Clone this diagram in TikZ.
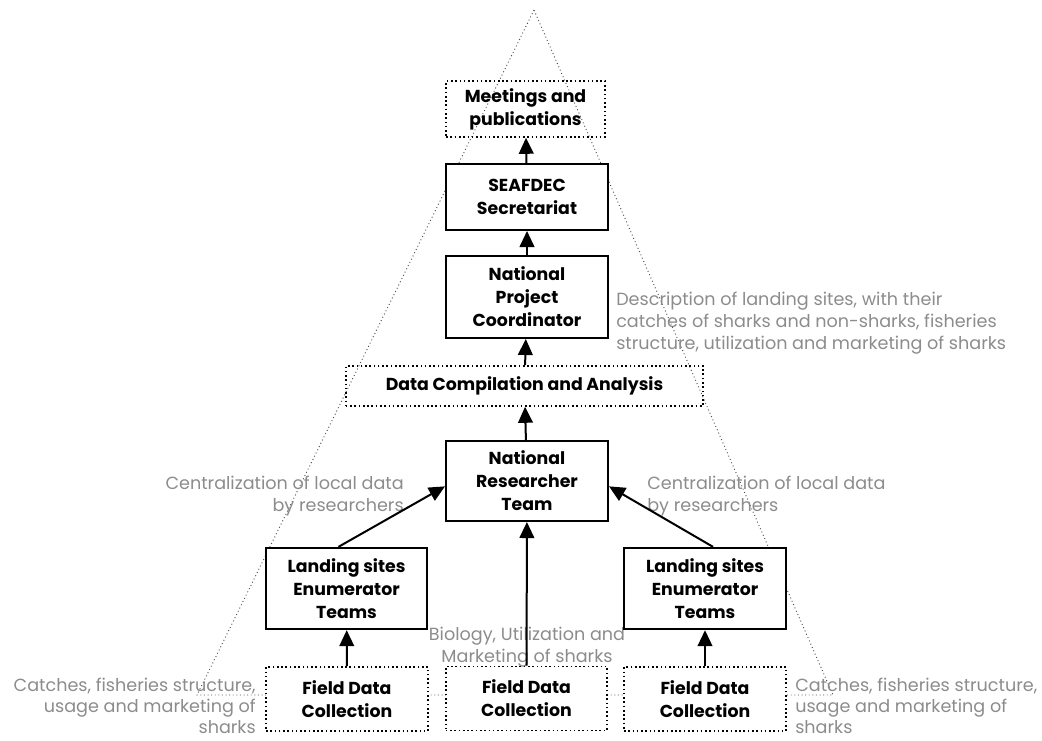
\documentclass[tikz,border=0pt]{standalone}
\usepackage{fontspec}
\setmainfont{Poppins}
\usetikzlibrary{arrows.meta,positioning}
\begin{document}
\begin{tikzpicture}[x=0.75pt, y=-0.75pt,
    box/.style={draw, line width=1.5pt, fill=white, align=center, inner sep=0pt, font=\bfseries\fontsize{13}{17.25}\selectfont},
    dotbox/.style={draw, dotted, line width=1.2pt, align=center, inner sep=0pt, font=\bfseries\fontsize{13}{17.25}\selectfont},
    note/.style={text=black!45, inner sep=0pt, font=\fontsize{13.2}{16.5}\selectfont},
    link/.style={-{Triangle[length=12pt,width=11pt]}, line width=1.5pt}]
\useasboundingbox (0,0) rectangle (1042,740);
% pyramid
\draw [dotted, line width=0.7pt, black!70] (534,10) -- (197,695) -- (833,695) -- cycle;
% notes
\node [note, anchor=west, align=left] (desc) at (616,323) {Description of landing sites, with their\\catches of sharks and non-sharks, fisheries\\structure, utilization and marketing of sharks};
\node [note, anchor=east, align=right] (centl) at (404,496) {Centralization of local data\\by researchers};
\node [note, anchor=west, align=left] (centr) at (647,496) {Centralization of local data\\by researchers};
\node [note, align=center] (bio) at (527,647) {Biology, Utilization and\\Marketing of sharks};
\node [note, anchor=east, align=right, font=\fontsize{13.2}{15.75}\selectfont] (catl) at (256,706) {Catches, fisheries structure,\\usage and marketing of\\sharks};
\node [note, anchor=west, align=left, font=\fontsize{13.2}{15.75}\selectfont] (catr) at (795,706) {Catches, fisheries structure,\\usage and marketing of\\sharks};
% boxes
\node [dotbox, minimum width=119pt, minimum height=42pt] (meet) at (525.5,109) {Meetings and\\publications};
\node [box, minimum width=121.5pt, minimum height=49.5pt] (sea) at (527,197) {SEAFDEC\\Secretariat};
\node [box, minimum width=121.5pt, minimum height=61.5pt] (npc) at (527,297) {National\\Project\\Coordinator};
\node [dotbox, minimum width=268pt, minimum height=30pt] (dca) at (524.5,386) {Data Compilation and Analysis};
\node [box, minimum width=121.5pt, minimum height=60pt] (nrt) at (527,481) {National\\Researcher\\Team};
\node [box, minimum width=121pt, minimum height=61pt] (landl) at (346.5,588.5) {Landing sites\\Enumerator\\Teams};
\node [box, minimum width=121.5pt, minimum height=61pt] (landr) at (705,588.5) {Landing sites\\Enumerator\\Teams};
\node [dotbox, fill=white, minimum width=121.5pt, minimum height=48pt] (fieldl) at (347,699) {Field Data\\Collection};
\node [dotbox, fill=white, minimum width=121pt, minimum height=48pt] (fieldm) at (526.5,698.5) {Field Data\\Collection};
\node [dotbox, fill=white, minimum width=121.5pt, minimum height=48pt] (fieldr) at (705,699) {Field Data\\Collection};
% arrows
\draw [link] (sea) -- (meet);
\draw [link] (npc) -- (sea);
\draw [link] (dca) -- (npc);
\draw [link] (nrt) -- (dca);
\draw [link] ([xshift=-6pt]landl.north) -- ([yshift=-4pt]nrt.west);
\draw [link] ([xshift=6pt]landr.north) -- ([yshift=-4pt]nrt.east);
\draw [link] (fieldm) -- (nrt);
\draw [link] (fieldl) -- (landl);
\draw [link] (fieldr) -- (landr);
\end{tikzpicture}
\end{document}
